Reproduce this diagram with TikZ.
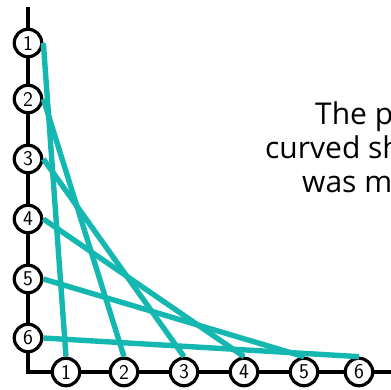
\documentclass[tikz,border=0pt]{standalone}
\usepackage{fontspec}
\setmainfont{Open Sans}
\usepackage{tikz}
\usetikzlibrary{positioning}
\definecolor{strandteal}{RGB}{20,184,176}

\begin{document}
\begin{tikzpicture}[x=1pt, y=-1pt,
    numcirc/.style={circle, draw=black, line width=3.2pt, fill=white, minimum size=27.5pt, inner sep=0pt, font=\sffamily\fontsize{21}{21}\selectfont},
    strand/.style={strandteal, line width=5.4pt},
    caption/.style={anchor=base west, inner sep=0pt, font=\fontsize{30}{34}\selectfont}]
    \useasboundingbox (0,0) rectangle (391,390);
    \clip (0,0) rectangle (391,390);

    % 坐标轴
    \draw[line width=3.1pt] (28,7) -- (28,372) -- (395,372);

    % 竖直方向的圆
    \node[numcirc] (v1) at (28,43) {1};
    \node[numcirc] (v2) at (28,99) {2};
    \node[numcirc] (v3) at (28,159) {3};
    \node[numcirc] (v4) at (28,219) {4};
    \node[numcirc] (v5) at (28,279) {5};
    \node[numcirc] (v6) at (28,338) {6};

    % 水平方向的圆
    \node[numcirc] (h1) at (66,372) {1};
    \node[numcirc] (h2) at (124,372) {2};
    \node[numcirc] (h3) at (184,372) {3};
    \node[numcirc] (h4) at (244,372) {4};
    \node[numcirc] (h5) at (304,372) {5};
    \node[numcirc] (h6) at (359,372) {6};

    % 连线
    \draw[strand] (v1.east) -- (h1.north);
    \draw[strand] (v2.east) -- (h2.north);
    \draw[strand] (v3.east) -- (h3.north);
    \draw[strand] (v4.east) -- (h4.north);
    \draw[strand] (v5.east) -- (h5.north);
    \draw[strand] (v6.east) -- (h6.north);

    % 文字
    \node[caption] (line1) at (315,125) {The p};
    \node[caption] (line2) at (265,159) {curved sh};
    \node[caption] (line3) at (302,193) {was m};
\end{tikzpicture}
\end{document}
